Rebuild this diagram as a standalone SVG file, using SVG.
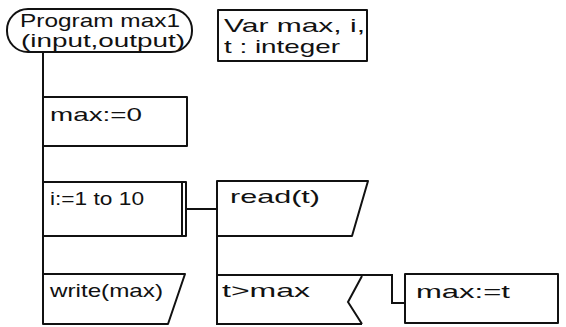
<svg xmlns="http://www.w3.org/2000/svg" width="566" height="327" viewBox="0 0 566 327">
<style>
.s{fill:#fff;stroke:#111;stroke-width:2;stroke-linejoin:round}
.l{fill:none;stroke:#111;stroke-width:2}
text{font-family:"Liberation Sans","DejaVu Sans",sans-serif;font-size:19px;fill:#111}
</style>
<rect width="566" height="327" fill="#fff"/>
<g id="connectors">
<line class="l" x1="43" y1="52" x2="43" y2="324"/>
<line class="l" x1="186" y1="209" x2="217" y2="209"/>
<line class="l" x1="217" y1="236" x2="217" y2="274"/>
<polyline class="l" points="362,275 392,275 392,303 405,303"/>
</g>
<g id="program">
<rect class="s" x="7" y="9" width="185" height="43" rx="21" ry="21"/>
<text x="20" y="27" textLength="160" lengthAdjust="spacingAndGlyphs">Program max1</text>
<text x="21" y="47" textLength="164" lengthAdjust="spacingAndGlyphs">(input,output)</text>
</g>
<g id="var">
<rect class="s" x="218" y="10" width="149" height="51"/>
<text x="224" y="32" textLength="141" lengthAdjust="spacingAndGlyphs">Var max, i,</text>
<text x="224" y="53" textLength="116" lengthAdjust="spacingAndGlyphs">t : integer</text>
</g>
<g id="init">
<rect class="s" x="43" y="97" width="144" height="49"/>
<text x="50" y="121" textLength="92" lengthAdjust="spacingAndGlyphs">max:=0</text>
</g>
<g id="loop">
<rect class="s" x="43" y="182" width="143" height="54"/>
<line class="l" x1="182" y1="182" x2="182" y2="236"/>
<text x="50" y="205" textLength="94" lengthAdjust="spacingAndGlyphs">i:=1 to 10</text>
</g>
<g id="read">
<polygon class="s" points="217,181 368,181 352,236 217,236"/>
<text x="230" y="203" textLength="90" lengthAdjust="spacingAndGlyphs">read(t)</text>
</g>
<g id="write">
<polygon class="s" points="43,274 185,274 168,324 43,324"/>
<text x="50" y="297" textLength="113" lengthAdjust="spacingAndGlyphs">write(max)</text>
</g>
<g id="if">
<polyline class="l" points="362,275 217,275 217,324 362,324"/>
<polyline class="l" points="362,276 348,302 362,324"/>
<text x="222" y="297" textLength="88" lengthAdjust="spacingAndGlyphs">t&gt;max</text>
</g>
<g id="assign">
<rect class="s" x="405" y="274" width="153" height="49"/>
<text x="416" y="298" textLength="94" lengthAdjust="spacingAndGlyphs">max:=t</text>
</g>
</svg>
